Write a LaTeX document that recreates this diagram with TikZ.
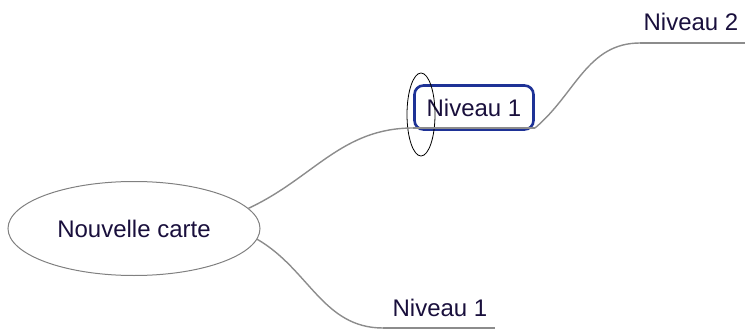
\documentclass[tikz,border=0pt]{standalone}
\usepackage{fontspec}
\setmainfont{Liberation Sans}
\usepackage{tikz}
\usetikzlibrary{shapes.geometric,positioning}
\definecolor{bleu}{RGB}{30,50,150}
\definecolor{encre}{RGB}{25,15,60}

\begin{document}
\begin{tikzpicture}[x=1pt,y=-1pt,font=\fontsize{24}{28}\selectfont,text=encre,
	branch/.style={draw=black!45,line width=1.4pt},
	root/.style={draw=black!50,line width=1pt,ellipse,minimum width=252pt,minimum height=94pt,inner sep=0pt},
	topic/.style={draw=bleu,line width=2.6pt,rectangle,rounded corners=9pt,minimum width=119pt,minimum height=44pt,inner sep=0pt},
	leaf/.style={inner sep=0pt},
	focus/.style={draw=black,line width=0.8pt,ellipse,minimum width=28pt,minimum height=83pt,inner sep=0pt}]
	\useasboundingbox (0,0) rectangle (745,332);

	\node[root]		(carte)		at (134,228.5)		{Nouvelle carte};
	\node[topic]	(n1)		at (474,107.5)		{Niveau 1};
	\node[leaf]		(n2)		at (691,22)			{Niveau 2};
	\node[leaf]		(n1b)		at (440,308)		{Niveau 1};
	\node[focus]	(focus)		at (421,114.5)		{};

	\coordinate (n1a) at (413,128);
	\coordinate (n1z) at (535,128);
	\coordinate (n2a) at (640,43);
	\coordinate (n2z) at (745,43);
	\coordinate (n1ba) at (383,328);
	\coordinate (n1bz) at (495,328);

	\path[branch]
		(carte.10)	edge	[out=25,in=180]		(n1a)
		(n1a)		edge						(n1z)
		(n1z)		edge	[out=40,in=180]		(n2a)
		(n2a)		edge						(n2z)
		(carte.-5)	edge	[out=-30,in=180]	(n1ba)
		(n1ba)		edge						(n1bz)
	;
\end{tikzpicture}
\end{document}
